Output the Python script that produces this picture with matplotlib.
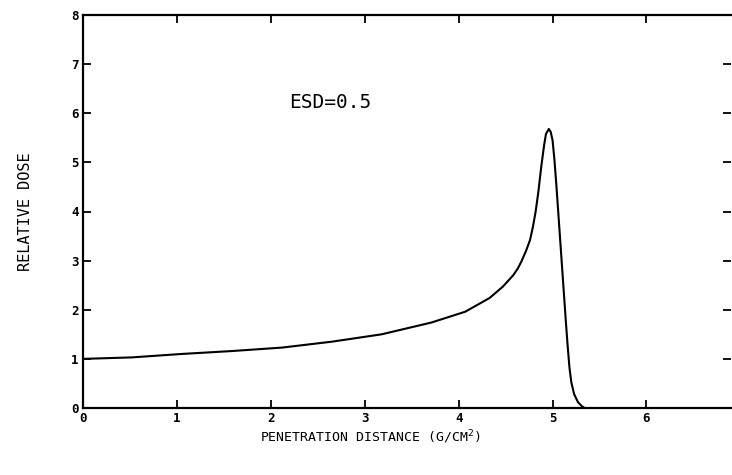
import matplotlib
matplotlib.use("Agg")
import matplotlib.pyplot as plt

# Depth-dose curve
depth = [0.00, 0.52, 1.05, 1.59, 2.12, 2.65, 3.18, 3.71, 4.07, 4.33, 4.47, 4.58,
         4.63, 4.67, 4.72, 4.76, 4.79, 4.82, 4.85, 4.88, 4.91, 4.93, 4.96, 4.98,
         5.00, 5.02, 5.04, 5.06, 5.08, 5.10, 5.12, 5.14, 5.16, 5.18, 5.20, 5.23,
         5.27, 5.31, 5.34]
dose = [1.00, 1.03, 1.10, 1.16, 1.23, 1.35, 1.50, 1.74, 1.96, 2.24, 2.47, 2.70,
        2.84, 2.99, 3.21, 3.42, 3.68, 4.00, 4.42, 4.92, 5.35, 5.58, 5.68, 5.62,
        5.45, 5.05, 4.55, 4.00, 3.45, 2.90, 2.35, 1.80, 1.28, 0.82, 0.52, 0.28,
        0.12, 0.04, 0.00]

x_ticks = [0, 1, 2, 3, 4, 5, 6]
y_ticks = [0, 1, 2, 3, 4, 5, 6, 7, 8]
annotation = "ESD=0.5"
x_label = "PENETRATION DISTANCE (G/CM$^2$)"
y_label = "RELATIVE DOSE"

mono = "DejaVu Sans Mono"

fig = plt.figure(figsize=(7.32, 4.75), dpi=100)
ax = fig.add_axes([83/732, 1 - 408/475, 648/732, (408 - 15)/475])

ax.plot(depth, dose, color="black", lw=1.5, solid_joinstyle="round")

ax.set_xlim(0, 6.9)
ax.set_ylim(0, 8)
ax.set_xticks(x_ticks)
ax.set_yticks(y_ticks)
ax.set_xticklabels([str(t) for t in x_ticks], family=mono, fontweight="bold", fontsize=9)
ax.set_yticklabels([str(t) for t in y_ticks], family=mono, fontweight="bold", fontsize=9)
ax.tick_params(direction="in", length=6, width=1.3, top=True, right=True, pad=3)

for s in ["left", "bottom", "top"]:
    ax.spines[s].set_linewidth(1.6)
ax.spines["right"].set_visible(False)

ax.text(2.63, 6.21, annotation, family=mono, fontsize=14, ha="center", va="center")

fig.text(371/732, 1 - 437/475, x_label, family=mono, fontsize=9.5, ha="center", va="center")
fig.text(25/732, 1 - 212/475, y_label, family=mono, fontsize=11, ha="center", va="center",
         rotation=90)

fig.savefig("out.png", dpi=100)
